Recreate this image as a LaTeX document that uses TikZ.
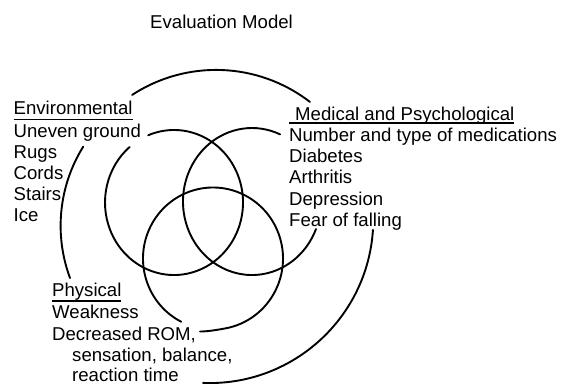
\documentclass[tikz,border=0pt]{standalone}
\usepackage{fontspec}
\setmainfont{Liberation Sans}
\newcommand\ulbar[2]{\setbox0\hbox{#2}\rlap{\rule[-#1]{\wd0}{1.3pt}}\box0}
\begin{document}
\begin{tikzpicture}[x=1pt,y=-1pt,
  ln/.style={line width=1.9pt, line cap=round},
  lbl/.style={anchor=base west, inner sep=0pt, font=\fontsize{18.6}{21}\selectfont}]
\useasboundingbox (0,0) rectangle (561,386);
% title
\node[lbl] (title) at (150,28) {Evaluation Model};
% environmental
\node[lbl] (env)  at (13.5,114.5) {\ulbar{5.6pt}{Environmental}};
\node[lbl] (env1) at (13.5,137) {Uneven ground};
\node[lbl] (env2) at (13.5,158) {Rugs};
\node[lbl] (env3) at (13.5,179) {Cords};
\node[lbl] (env4) at (13.5,200) {Stairs};
\node[lbl] (env5) at (13.5,221) {Ice};
% medical
\node[lbl] (med)  at (289,120) {\ulbar{3.7pt}{\hspace{6pt}Medical and Psychological}};
\node[lbl] (med1) at (289,141.7) {Number and type of medications};
\node[lbl] (med2) at (289,162) {Diabetes};
\node[lbl] (med3) at (289,183.3) {Arthritis};
\node[lbl] (med4) at (289,205) {Depression};
\node[lbl] (med5) at (289,226.5) {Fear of falling};
% physical
\node[lbl] (phy)  at (52,296.7) {\ulbar{5pt}{Physical}};
\node[lbl] (phy1) at (52,318.3) {Weakness};
\node[lbl] (phy2) at (52,340) {Decreased ROM,};
\node[lbl] (phy3) at (72,361.7) {sensation, balance,};
\node[lbl] (phy4) at (72,381.7) {reaction time};
% centres
\coordinate (Tc) at (216.1,223.3);
\coordinate (Lo) at (210.4,225.8);
\coordinate (Ro) at (209.6,219.35);
\coordinate (Lc) at (174,202.5);
\coordinate (Rc) at (252,201.5);
\coordinate (Bc) at (213,258.5);
% outer arcs
\draw[ln] ([shift={(-123.2:153.4)}]Tc) coordinate (envtop)
  arc[start angle=-123.2, end angle=-52.3, radius=153.4] coordinate (medtop);
\draw[ln] ([shift={(211.9:149.8)}]Lo) coordinate (envleft)
  arc[start angle=211.9, end angle=159.6, radius=149.8] coordinate (phytop);
\draw[ln] ([shift={(3.7:163.7)}]Ro) coordinate (medlow)
  arc[start angle=3.7, end angle=92.3, radius=163.7] coordinate (phylow);
% Venn circles
\draw[ln] ([shift={({69*cos(-112)},{72.5*sin(-112)})}]Lc)
  arc[start angle=-112, end angle=230, x radius=69, y radius=72.5];
\draw[ln] ([shift={({69*cos(22)},{73.5*sin(22)})}]Rc)
  arc[start angle=22, end angle=294, x radius=69, y radius=73.5];
\coordinate (bend) at (200,331.5);
\draw[ln] ([shift={({70*cos(117)},{71*sin(117)})}]Bc)
  arc[start angle=117, end angle=440, x radius=70, y radius=71]
  .. controls +(-9.8,1.8) and (207,331.5) .. (bend);
\end{tikzpicture}
\end{document}
